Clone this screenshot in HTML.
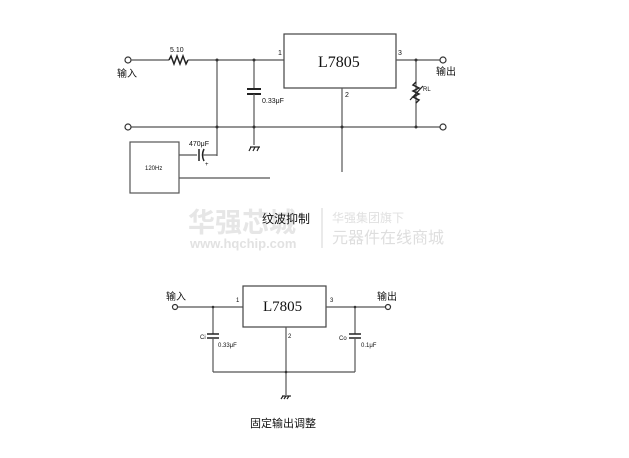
<!DOCTYPE html>
<html><head><meta charset="utf-8"><style>
body{margin:0;background:#fff;width:629px;height:458px;overflow:hidden}
svg{display:block}
text{font-family:"Liberation Sans",Arial,sans-serif;fill:#111}
.c{font-family:"Liberation Sans","Noto Sans CJK SC",sans-serif}
</style></head><body>
<svg width="629" height="458" viewBox="0 0 629 458" stroke="#555" fill="none" stroke-width="1.2">
<!-- watermark -->
<text x="188" y="232" class="c" font-size="27" font-weight="bold" fill="#ececec" stroke="none" style="fill:#e6e6e6">华强芯城</text>
<text x="190" y="248" font-size="13" font-weight="bold" stroke="none" style="fill:#e2e2e2">www.hqchip.com</text>
<line x1="322" y1="208" x2="322" y2="248" stroke="#ddd"/>
<text x="332" y="222" class="c" font-size="12" stroke="none" style="fill:#e0e0e0">华强集团旗下</text>
<text x="332" y="243" class="c" font-size="16" stroke="none" style="fill:#dedede">元器件在线商城</text>
<text x="262" y="223" class="c" font-size="12" stroke="none">纹波抑制</text>

<!-- top circuit -->
<circle cx="128" cy="60" r="3" stroke="#333"/>
<line x1="131" y1="60" x2="169" y2="60"/>
<polyline points="169,60 171,56 174,64 177,56 180,64 183,56 186,64 188,60" stroke="#222" stroke-width="1.5"/>
<line x1="188" y1="60" x2="284" y2="60"/>
<text x="170" y="52" font-size="7" stroke="none">5.10</text>
<text x="117" y="77" class="c" font-size="10" stroke="none">输入</text>
<line x1="217" y1="60" x2="217" y2="156"/>
<line x1="254" y1="60" x2="254" y2="89"/>
<line x1="247" y1="89" x2="261" y2="89" stroke="#222" stroke-width="2"/>
<line x1="247" y1="94" x2="261" y2="94" stroke="#222" stroke-width="2"/>
<line x1="254" y1="94" x2="254" y2="145"/>
<text x="262" y="103" font-size="7" stroke="none">0.33μF</text>
<line x1="250" y1="147" x2="260" y2="147" stroke="#222"/>
<line x1="251" y1="147" x2="249" y2="151" stroke="#222"/><line x1="255" y1="147" x2="253" y2="151" stroke="#222"/><line x1="259" y1="147" x2="257" y2="151" stroke="#222"/>
<rect x="284" y="34" width="112" height="54" stroke="#444"/>
<text x="318" y="67" font-family="Liberation Serif" font-size="16" stroke="none" style="font-family:'Liberation Serif',serif">L7805</text>
<text x="278" y="55" font-size="7" stroke="none">1</text>
<text x="398" y="55" font-size="7" stroke="none">3</text>
<text x="345" y="97" font-size="7" stroke="none">2</text>
<line x1="396" y1="60" x2="440" y2="60"/>
<circle cx="443" cy="60" r="3" stroke="#333"/>
<text x="436" y="75" class="c" font-size="10" stroke="none">输出</text>
<line x1="416" y1="60" x2="416" y2="127"/>
<polyline points="416,82 413,85 419,88 413,91 419,94 413,97 419,100 416,103" stroke="#222" stroke-width="1.5"/>
<line x1="410" y1="100" x2="423" y2="86" stroke="#222"/>
<text x="423" y="91" font-size="6" stroke="none">RL</text>
<line x1="131" y1="127" x2="440" y2="127"/>
<circle cx="128" cy="127" r="3" stroke="#333"/>
<circle cx="443" cy="127" r="3" stroke="#333"/>
<line x1="342" y1="88" x2="342" y2="172"/>
<g fill="#333" stroke="none"><circle cx="217" cy="60" r="1.5"/><circle cx="254" cy="60" r="1.5"/><circle cx="416" cy="60" r="1.5"/><circle cx="217" cy="127" r="1.5"/><circle cx="254" cy="127" r="1.5"/><circle cx="342" cy="127" r="1.5"/><circle cx="416" cy="127" r="1.5"/></g>
<rect x="130" y="142" width="49" height="51"/>
<text x="145" y="170" font-size="6" stroke="none">120Hz</text>
<line x1="179" y1="155" x2="197" y2="155"/>
<line x1="199" y1="149" x2="199" y2="161" stroke="#222" stroke-width="1.5"/>
<path d="M204,149 Q201,155 204,161" stroke="#222" stroke-width="1.5"/>
<line x1="203" y1="155" x2="217" y2="155"/>
<text x="189" y="146" font-size="7" stroke="none">470μF</text>
<text x="205" y="166" font-size="6" stroke="none">+</text>
<line x1="179" y1="178" x2="270" y2="178"/>

<!-- bottom circuit -->
<text x="166" y="300" class="c" font-size="10" stroke="none">输入</text>
<circle cx="175" cy="307" r="2.5" stroke="#333"/>
<line x1="178" y1="307" x2="243" y2="307"/>
<text x="236" y="302" font-size="6" stroke="none">1</text>
<rect x="243" y="286" width="83" height="41" stroke="#444"/>
<text x="263" y="311" font-size="15" stroke="none" style="font-family:'Liberation Serif',serif">L7805</text>
<text x="330" y="302" font-size="6" stroke="none">3</text>
<text x="288" y="338" font-size="6" stroke="none">2</text>
<line x1="326" y1="307" x2="385" y2="307"/>
<circle cx="388" cy="307" r="2.5" stroke="#333"/>
<text x="377" y="300" class="c" font-size="10" stroke="none">输出</text>
<line x1="213" y1="307" x2="213" y2="334"/>
<line x1="207" y1="334" x2="219" y2="334" stroke="#222" stroke-width="1.5"/>
<line x1="207" y1="338" x2="219" y2="338" stroke="#222" stroke-width="1.5"/>
<line x1="213" y1="338" x2="213" y2="372"/>
<text x="200" y="339" font-size="6" stroke="none">Ci</text>
<text x="218" y="347" font-size="6" stroke="none">0.33μF</text>
<line x1="355" y1="307" x2="355" y2="334"/>
<line x1="349" y1="334" x2="361" y2="334" stroke="#222" stroke-width="1.5"/>
<line x1="349" y1="338" x2="361" y2="338" stroke="#222" stroke-width="1.5"/>
<line x1="355" y1="338" x2="355" y2="372"/>
<text x="339" y="340" font-size="6" stroke="none">Co</text>
<text x="361" y="347" font-size="6" stroke="none">0.1μF</text>
<line x1="213" y1="372" x2="355" y2="372"/>
<line x1="286" y1="327" x2="286" y2="395"/>
<line x1="282" y1="396" x2="291" y2="396" stroke="#222"/>
<line x1="283" y1="396" x2="281" y2="399" stroke="#222"/><line x1="286" y1="396" x2="284" y2="399" stroke="#222"/><line x1="289" y1="396" x2="287" y2="399" stroke="#222"/>
<g fill="#333" stroke="none"><circle cx="213" cy="307" r="1.3"/><circle cx="355" cy="307" r="1.3"/><circle cx="286" cy="372" r="1.3"/></g>
<text x="250" y="427" class="c" font-size="11" stroke="none">固定输出调整</text>
</svg>
</body></html>
